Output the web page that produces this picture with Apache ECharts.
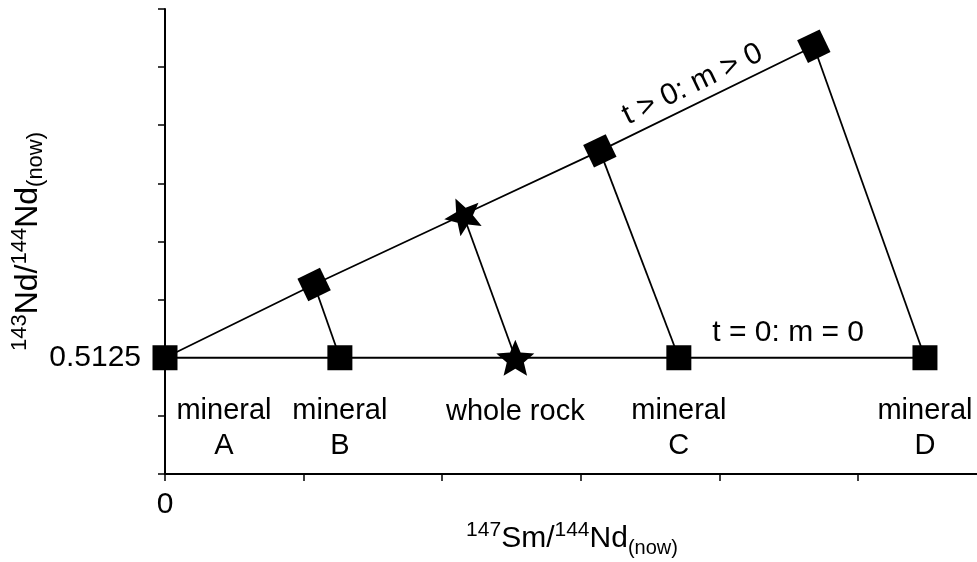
<!DOCTYPE html>
<html>
<head>
<meta charset="utf-8">
<script src="https://cdn.jsdelivr.net/npm/echarts@6/dist/echarts.min.js"></script>
<style>
  html, body { margin: 0; padding: 0; background: #fff; }
  #chart { width: 977px; height: 562px; }
</style>
</head>
<body>
<div id="chart"></div>
<script>
// samples: 147Sm/144Nd (x) and 143Nd/144Nd (y)
var sampleNames = ['mineral\nA', 'mineral\nB', 'whole rock', 'mineral\nC', 'mineral\nD'];
var sampleKinds = ['mineral', 'mineral', 'rock', 'mineral', 'mineral'];

// t = 0 : same initial ratio for all
var initX = [0, 0.0631, 0.1264, 0.1854, 0.2742];
var initY = [0.5125, 0.5125, 0.5125, 0.5125, 0.5125];

// t > 0 : today
var nowX = [0, 0.0538, 0.1076, 0.1569, 0.2341];
var nowY = [0.5125, 0.512626, 0.512746, 0.512856, 0.513036];

var FONT = "'Liberation Sans', Arial, sans-serif";
var STAR = 'path://M50 0 L63.23 31.8 L97.55 34.55 L71.4 56.95 L79.39 90.45 L50 72.5 L20.61 90.45 L28.6 56.95 L2.45 34.55 L36.77 31.8 Z';
var labelOffsets = [[59, 71], [0, 71], [0, 54], [0, 71], [0, 71]];

var chart = echarts.init(document.getElementById('chart'));

function pts(xs, ys, withLabels) {
  return xs.map(function (x, i) {
    var item = {
      value: [x, ys[i]],
      name: sampleNames[i],
      symbol: sampleKinds[i] === 'rock' ? STAR : 'rect',
      symbolSize: sampleKinds[i] === 'rock' ? 38 : 25
    };
    if (withLabels) {
      item.label = { show: true, position: 'inside', offset: labelOffsets[i] };
    } else if (i === 0) {
      item.symbol = 'none'; // shared origin point, drawn by the t = 0 series
    }
    return item;
  });
}

var series = [];
// tie lines between t=0 and today
for (var i = 1; i < initX.length; i++) {
  series.push({
    type: 'line',
    data: [[nowX[i], nowY[i]], [initX[i], initY[i]]],
    symbol: 'none',
    lineStyle: { color: '#000', width: 1.8 },
    silent: true
  });
}
series.push({
  name: 't > 0',
  type: 'line',
  data: pts(nowX, nowY, false),
  symbolKeepAspect: true,
  symbolRotate: 25.7,
  itemStyle: { color: '#000' },
  lineStyle: { color: '#000', width: 1.8 }
});
series.push({
  name: 't = 0',
  type: 'line',
  data: pts(initX, initY, true),
  symbolKeepAspect: true,
  itemStyle: { color: '#000' },
  lineStyle: { color: '#000', width: 1.8 },
  label: {
    formatter: '{b}',
    color: '#000',
    fontSize: 29,
    lineHeight: 35,
    fontFamily: FONT
  }
});

function nameRich(base, sup, sub) {
  return {
    b: { fontSize: base, lineHeight: 38, fontFamily: FONT, color: '#000' },
    sup: { fontSize: sup, lineHeight: 16, verticalAlign: 'top', fontFamily: FONT, color: '#000' },
    sub: { fontSize: sub, lineHeight: 8, verticalAlign: 'bottom', fontFamily: FONT, color: '#000' }
  };
}

chart.setOption({
  animation: false,
  grid: { left: 165, right: -2, top: 9, bottom: 88, containLabel: false, outerBoundsMode: 'none' },
  xAxis: {
    type: 'value',
    min: 0,
    max: 0.2937,
    interval: 0.05,
    name: '{sup|147}{b|Sm/}{sup|144}{b|Nd}{sub|(now)}',
    nameLocation: 'middle',
    nameGap: 46,
    nameMoveOverlap: false,
    nameTextStyle: { rich: nameRich(30, 21, 20) },
    splitLine: { show: false },
    axisLine: { lineStyle: { color: '#000', width: 2 } },
    axisTick: { length: 7, lineStyle: { color: '#000', width: 1.5 } },
    axisLabel: {
      margin: 16,
      fontSize: 30,
      fontFamily: FONT,
      color: '#000',
      showMaxLabel: false,
      formatter: function (v) { return Math.abs(v) < 1e-9 ? '0' : ''; }
    }
  },
  yAxis: {
    type: 'value',
    min: 0.5123,
    max: 0.5131,
    interval: 0.0001,
    name: '{sup|143}{b|Nd/}{sup|144}{b|Nd}{sub|(now)}',
    nameLocation: 'middle',
    nameRotate: 90,
    nameGap: 118,
    nameMoveOverlap: false,
    nameTextStyle: { rich: nameRich(32, 22, 22) },
    splitLine: { show: false },
    axisLine: { lineStyle: { color: '#000', width: 2 } },
    axisTick: { length: 7, lineStyle: { color: '#000', width: 1.5 } },
    axisLabel: {
      margin: 24,
      fontSize: 30,
      fontFamily: FONT,
      color: '#000',
      formatter: function (v) { return Math.abs(v - 0.5125) < 1e-8 ? '0.5125' : ''; }
    }
  },
  series: series
});

// text along the two isochrons
function alongText(xs, ys, frac, gap, text) {
  var p0 = chart.convertToPixel({ gridIndex: 0 }, [xs[0], ys[0]]);
  var p1 = chart.convertToPixel({ gridIndex: 0 }, [xs[xs.length - 1], ys[ys.length - 1]]);
  var a = Math.atan2(p0[1] - p1[1], p1[0] - p0[0]);
  var cx = p0[0] + frac * (p1[0] - p0[0]) - gap * Math.sin(a);
  var cy = p0[1] + frac * (p1[1] - p0[1]) - gap * Math.cos(a);
  return {
    type: 'text',
    x: cx,
    y: cy,
    rotation: a,
    z: 100,
    style: {
      text: text,
      fontSize: 30,
      fontFamily: FONT,
      fill: '#000',
      align: 'center',
      verticalAlign: 'middle'
    }
  };
}

chart.setOption({
  graphic: [
    alongText(nowX, nowY, 0.825, 18, 't > 0: m > 0'),
    alongText(initX, initY, 0.82, 25, 't = 0: m = 0')
  ]
});
</script>
</body>
</html>
